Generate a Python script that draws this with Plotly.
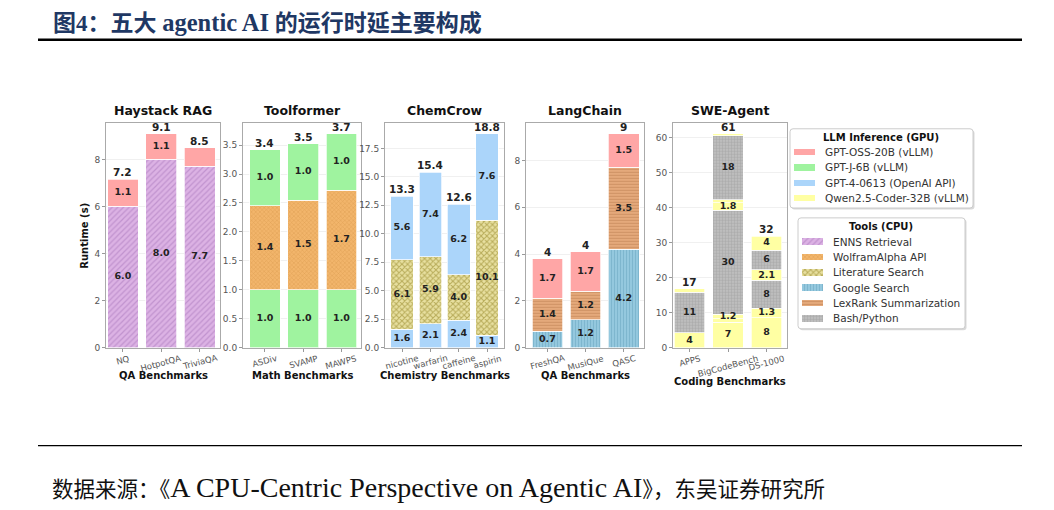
import numpy as np
import plotly.graph_objects as go

# ---------------- DATA ----------------
haystack_cats = ["NQ", "HotpotQA", "TriviaQA"]
haystack_enns = [6.0, 8.0, 7.7]
haystack_enns_lbl = ["6.0", "8.0", "7.7"]
haystack_gptoss = [1.15, 1.1, 0.8]
haystack_gptoss_lbl = ["1.1", "1.1", ""]
haystack_totals = ["7.2", "9.1", "8.5"]

tool_cats = ["ASDiv", "SVAMP", "MAWPS"]
tool_gptj_a = [1.0, 1.0, 1.0]
tool_wolfram = [1.45, 1.55, 1.72]
tool_wolfram_lbl = ["1.4", "1.5", "1.7"]
tool_gptj_b = [0.97, 0.97, 0.98]
tool_totals = ["3.4", "3.5", "3.7"]

chem_cats = ["nicotine", "warfarin", "caffeine", "aspirin"]
chem_gpt4_a = [1.6, 2.1, 2.4, 1.1]
chem_lit = [6.1, 5.9, 4.0, 10.1]
chem_gpt4_b = [5.6, 7.4, 6.2, 7.6]
chem_totals = ["13.3", "15.4", "12.6", "18.8"]

lang_cats = ["FreshQA", "MusiQue", "QASC"]
lang_google = [0.7, 1.2, 4.2]
lang_lexrank = [1.4, 1.2, 3.5]
lang_gptoss = [1.7, 1.7, 1.45]
lang_totals = ["4", "4", "9"]

swe_cats = ["APPS", "BigCodeBench", "DS-1000"]
swe_apps_parts = ["Q", "B", "Q"]
swe_apps_vals = [4.25, 11.6, 0.95]
swe_apps_lbl = ["4", "11", ""]
swe_bcb_parts = ["Q", "Q", "Q", "B", "Q", "Q", "B", "Q"]
swe_bcb_vals = [7.2, 1.0, 1.3, 29.7, 2.2, 0.9, 18.3, 0.6]
swe_bcb_lbl = ["7", "", "1.2", "30", "1.8", "", "18", ""]
swe_ds_parts = ["Q", "Q", "B", "Q", "B", "Q"]
swe_ds_vals = [8.6, 2.7, 7.9, 3.0, 5.7, 4.0]
swe_ds_lbl = ["8", "1.3", "8", "2.1", "6", "4"]
swe_totals = ["17", "61", "32"]

llm_names = ["GPT-OSS-20B (vLLM)", "GPT-J-6B (vLLM)", "GPT-4-0613 (OpenAI API)", "Qwen2.5-Coder-32B (vLLM)"]
tool_names = ["ENNS Retrieval", "WolframAlpha API", "Literature Search", "Google Search",
              "LexRank Summarization", "Bash/Python"]

# ---------------- STYLE ----------------
STY = {
    "GPT-OSS-20B (vLLM)": dict(bg="#FFA6A6", fg=None, shape="", size=4, sol=0.3),
    "GPT-J-6B (vLLM)": dict(bg="#9FF39F", fg=None, shape="", size=4, sol=0.3),
    "GPT-4-0613 (OpenAI API)": dict(bg="#ABD5FA", fg=None, shape="", size=4, sol=0.3),
    "Qwen2.5-Coder-32B (vLLM)": dict(bg="#FFFFA3", fg=None, shape="", size=4, sol=0.3),
    "ENNS Retrieval": dict(bg="#DCB2E4", fg="#C193CF", shape="/", size=4, sol=0.3),
    "WolframAlpha API": dict(bg="#F2B56B", fg="#DFA053", shape="x", size=3, sol=0.3),
    "Literature Search": dict(bg="#E8E0A0", fg="#B8AC5A", shape="x", size=4, sol=0.45),
    "Google Search": dict(bg="#94C8DE", fg="#7EB6CE", shape="|", size=3, sol=0.35),
    "LexRank Summarization": dict(bg="#E4A97B", fg="#CF9264", shape="-", size=3, sol=0.35),
    "Bash/Python": dict(bg="#BDBDBD", fg="#A6A6A6", shape="+", size=3, sol=0.3),
}
CODE = {"Q": "Qwen2.5-Coder-32B (vLLM)", "B": "Bash/Python"}

# page offset (browser body margin) compensation
OFF = 8
FW, FH = 1046, 502
FONT = "DejaVu Sans"


def PX(x):
    return (x - OFF) / FW


def PY(y):
    return 1 - (y - OFF) / FH


ydom = [PY(351), PY(124)]
frames = [(106, 220), (243, 361), (385, 504), (526, 644), (673, 787)]
xranges = [[-0.44, 2.53], [-0.575, 2.51], [-0.6, 3.6], [-0.56, 2.53], [-0.43, 2.53]]
titles = ["Haystack RAG", "Toolformer", "ChemCrow", "LangChain", "SWE-Agent"]
xtitles = ["QA Benchmarks", "Math Benchmarks", "Chemistry Benchmarks", "QA Benchmarks", "Coding Benchmarks"]

fig = go.Figure()


def pattern_of(s):
    pat = dict(shape=s["shape"])
    if s["shape"]:
        pat.update(fgcolor=s["fg"], bgcolor=s["bg"], size=s["size"], solidity=s["sol"], fillmode="replace")
    return pat


def add_seg(k, cats, vals, name):
    s = STY[name]
    fig.add_trace(go.Bar(
        x=cats, y=vals, name=name, xaxis=f"x{k}" if k > 1 else "x", yaxis=f"y{k}" if k > 1 else "y",
        marker=dict(color=s["bg"], pattern=pattern_of(s), line=dict(color="rgba(255,255,255,0.9)", width=0.8)),
        showlegend=False, hoverinfo="skip",
    ))


def add_labels(k, cats, bottoms, vals, labels):
    mids = np.array(bottoms) + np.array(vals) / 2
    fig.add_trace(go.Scatter(
        x=cats, y=mids, text=labels, mode="text", showlegend=False, hoverinfo="skip",
        xaxis=f"x{k}" if k > 1 else "x", yaxis=f"y{k}" if k > 1 else "y",
        textfont=dict(family=FONT, size=9.5, color="#222222", weight="bold"),
    ))


def stacked(k, cats, layers):
    base = np.zeros(len(cats))
    for vals, name, labels in layers:
        add_seg(k, cats, vals, name)
        add_labels(k, cats, base.copy(), vals, labels)
        base = base + np.array(vals)
    return base


t1 = stacked(1, haystack_cats, [
    (haystack_enns, "ENNS Retrieval", haystack_enns_lbl),
    (haystack_gptoss, "GPT-OSS-20B (vLLM)", haystack_gptoss_lbl)])
t2 = stacked(2, tool_cats, [
    (tool_gptj_a, "GPT-J-6B (vLLM)", [f"{v:.1f}" for v in tool_gptj_a]),
    (tool_wolfram, "WolframAlpha API", tool_wolfram_lbl),
    (tool_gptj_b, "GPT-J-6B (vLLM)", ["1.0", "1.0", "1.0"])])
t3 = stacked(3, chem_cats, [
    (chem_gpt4_a, "GPT-4-0613 (OpenAI API)", [f"{v:.1f}" for v in chem_gpt4_a]),
    (chem_lit, "Literature Search", [f"{v:.1f}" for v in chem_lit]),
    (chem_gpt4_b, "GPT-4-0613 (OpenAI API)", [f"{v:.1f}" for v in chem_gpt4_b])])
t4 = stacked(4, lang_cats, [
    (lang_google, "Google Search", [f"{v:.1f}" for v in lang_google]),
    (lang_lexrank, "LexRank Summarization", [f"{v:.1f}" for v in lang_lexrank]),
    (lang_gptoss, "GPT-OSS-20B (vLLM)", ["1.7", "1.7", "1.5"])])
t5 = []
for cat, parts, vals, lbls in [(swe_cats[0], swe_apps_parts, swe_apps_vals, swe_apps_lbl),
                               (swe_cats[1], swe_bcb_parts, swe_bcb_vals, swe_bcb_lbl),
                               (swe_cats[2], swe_ds_parts, swe_ds_vals, swe_ds_lbl)]:
    base = 0.0
    for p, v, l in zip(parts, vals, lbls):
        add_seg(5, [cat], [v], CODE[p])
        add_labels(5, [cat], [base], [v], [l])
        base += v
    t5.append(base)

all_cats = [haystack_cats, tool_cats, chem_cats, lang_cats, swe_cats]
all_tops = [t1, t2, t3, t4, np.array(t5)]
all_tot_lbl = [haystack_totals, tool_totals, chem_totals, lang_totals, swe_totals]
ydticks = [2, 0.5, 2.5, 2, 10]
yfmt = ["d", ".1f", ".1f", "d", "d"]

annotations = []
for i in range(5):
    k = i + 1
    xa = "xaxis" if k == 1 else f"xaxis{k}"
    ya = "yaxis" if k == 1 else f"yaxis{k}"
    x0, x1 = frames[i]
    ymax = float(np.max(all_tops[i])) * 1.05
    fig.layout[xa] = dict(
        domain=[PX(x0), PX(x1)], anchor="y" if k == 1 else f"y{k}", type="category",
        range=xranges[i], showticklabels=False, ticks="outside", ticklen=3, tickcolor="#999",
        showline=True, mirror=True, linecolor="#AAAAAA", linewidth=1, showgrid=False,
        categoryorder="array", categoryarray=all_cats[i],
    )
    fig.layout[ya] = dict(
        domain=ydom, anchor="x" if k == 1 else f"x{k}", range=[0, ymax], dtick=ydticks[i], tick0=0,
        tickformat=yfmt[i], tickfont=dict(family=FONT, size=9, color="#555555"),
        ticks="outside", ticklen=3, tickcolor="#999", showline=True, mirror=True,
        linecolor="#AAAAAA", linewidth=1, showgrid=True, gridcolor="#F0F0F0", zeroline=False,
    )
    xref = "x" if k == 1 else f"x{k}"
    yref = "y" if k == 1 else f"y{k}"
    for c, tv, tl in zip(all_cats[i], all_tops[i], all_tot_lbl[i]):
        annotations.append(dict(x=c, y=float(tv), xref=xref, yref=yref, text=f"<b>{tl}</b>",
                                showarrow=False, yanchor="bottom", yshift=-1,
                                font=dict(family=FONT, size=10.5, color="#222222")))
    for c in all_cats[i]:
        annotations.append(dict(x=c, y=PY(354), xref=xref, yref="paper", text=c, textangle=-15,
                                showarrow=False, xanchor="center", yanchor="top",
                                font=dict(family=FONT, size=8.5, color="#555555")))
    annotations.append(dict(x=PX((x0 + x1) / 2), y=PY(112), xref="paper", yref="paper",
                            text=f"<b>{titles[i]}</b>", showarrow=False, xanchor="center", yanchor="middle",
                            font=dict(family=FONT, size=12.5, color="#111111")))
    ty = 385 if k == 5 else 379
    annotations.append(dict(x=PX((x0 + x1) / 2), y=PY(ty), xref="paper", yref="paper",
                            text=f"<b>{xtitles[i]}</b>", showarrow=False, xanchor="center", yanchor="middle",
                            font=dict(family=FONT, size=10, color="#111111")))

annotations.append(dict(x=PX(85), y=PY(238), xref="paper", yref="paper", text="<b>Runtime (s)</b>",
                        textangle=-90, showarrow=False, xanchor="center", yanchor="middle",
                        font=dict(family=FONT, size=10, color="#111111")))
annotations.append(dict(
    x=PX(52), y=PY(8), xref="paper", yref="paper",
    text='<b>图4：五大 <span style="font-size:24.5px">agentic AI</span> 的运行时延主要构成</b>',
    showarrow=False, xanchor="left", yanchor="top", borderpad=0,
    font=dict(family="Liberation Serif, Noto Sans CJK SC", size=23, color="#1F3864")))
annotations.append(dict(
    x=PX(50), y=PY(492), xref="paper", yref="paper",
    text='数据来源：《<span style="font-size:28px">A CPU-Centric Perspective on Agentic AI</span>》，东吴证券研究所',
    showarrow=False, xanchor="left", yanchor="middle",
    font=dict(family="Liberation Serif, Noto Sans CJK SC", size=21.5, color="#111111")))

shapes = [
    dict(type="line", xref="paper", yref="paper", x0=PX(38), x1=PX(1022), y0=PY(40), y1=PY(40),
         line=dict(color="#000000", width=2.5)),
    dict(type="line", xref="paper", yref="paper", x0=PX(38), x1=PX(1022), y0=PY(450), y1=PY(450),
         line=dict(color="#000000", width=1.2)),
]

# ---------------- custom legends (pixel-mapped helper axis) ----------------
LX0, LX1, LY0, LY1 = 788, 1000, 118, 345
fig.layout["xaxis6"] = dict(domain=[PX(LX0), PX(LX1)], range=[LX0, LX1], anchor="y6", visible=False,
                            fixedrange=True, showgrid=False, zeroline=False)
fig.layout["yaxis6"] = dict(domain=[PY(LY1), PY(LY0)], range=[LY1, LY0], anchor="x6", visible=False,
                            fixedrange=True, showgrid=False, zeroline=False)


def rrect(x0, y0, x1, y1, r=3):
    return (f"M {x0 + r},{y0} L {x1 - r},{y0} Q {x1},{y0} {x1},{y0 + r} L {x1},{y1 - r} "
            f"Q {x1},{y1} {x1 - r},{y1} L {x0 + r},{y1} Q {x0},{y1} {x0},{y1 - r} "
            f"L {x0},{y0 + r} Q {x0},{y0} {x0 + r},{y0} Z")


legend_specs = [
    dict(box=(790, 130, 973, 210), title="LLM Inference (GPU)", title_x=881, title_y=138.5,
         names=llm_names, ys=[153.3, 169.0, 184.5, 200.0], sw=(793.5, 815), tx=823),
    dict(box=(798, 220, 965, 332), title="Tools (CPU)", title_x=881, title_y=228.5,
         names=tool_names, ys=[244.0, 259.5, 275.0, 290.5, 306.0, 321.5], sw=(801.5, 823), tx=831),
]
for spec in legend_specs:
    bx0, by0, bx1, by1 = spec["box"]
    shapes.append(dict(type="path", xref="x6", yref="y6", path=rrect(bx0 + 1.5, by0 + 1.5, bx1 + 1.5, by1 + 1.5),
                       fillcolor="#D9D9D9", line=dict(width=0), layer="below"))
    shapes.append(dict(type="path", xref="x6", yref="y6", path=rrect(bx0, by0, bx1, by1),
                       fillcolor="white", line=dict(color="#CCCCCC", width=1), layer="below"))
    annotations.append(dict(x=spec["title_x"], y=spec["title_y"], xref="x6", yref="y6",
                            text=f"<b>{spec['title']}</b>", showarrow=False, xanchor="center", yanchor="middle",
                            font=dict(family=FONT, size=10, color="#111111")))
    sx0, sx1 = spec["sw"]
    for nm, yy in zip(spec["names"], spec["ys"]):
        s = STY[nm]
        fig.add_trace(go.Bar(
            x=[sx1 - sx0], y=[yy], base=[sx0], width=[6.5], orientation="h", xaxis="x6", yaxis="y6",
            marker=dict(color=s["bg"], pattern=pattern_of(s), line=dict(width=0)),
            showlegend=False, hoverinfo="skip", name=nm,
        ))
        annotations.append(dict(x=spec["tx"], y=yy, xref="x6", yref="y6", text=nm, showarrow=False,
                                xanchor="left", yanchor="middle",
                                font=dict(family=FONT, size=10.5, color="#333333")))

fig.update_layout(
    width=FW, height=FH, margin=dict(l=0, r=0, t=0, b=0), paper_bgcolor="white", plot_bgcolor="white",
    barmode="stack", bargap=0.2, font=dict(family=FONT, color="#333333"),
    annotations=annotations, shapes=shapes, showlegend=False,
)

fig.write_html("out.html")
